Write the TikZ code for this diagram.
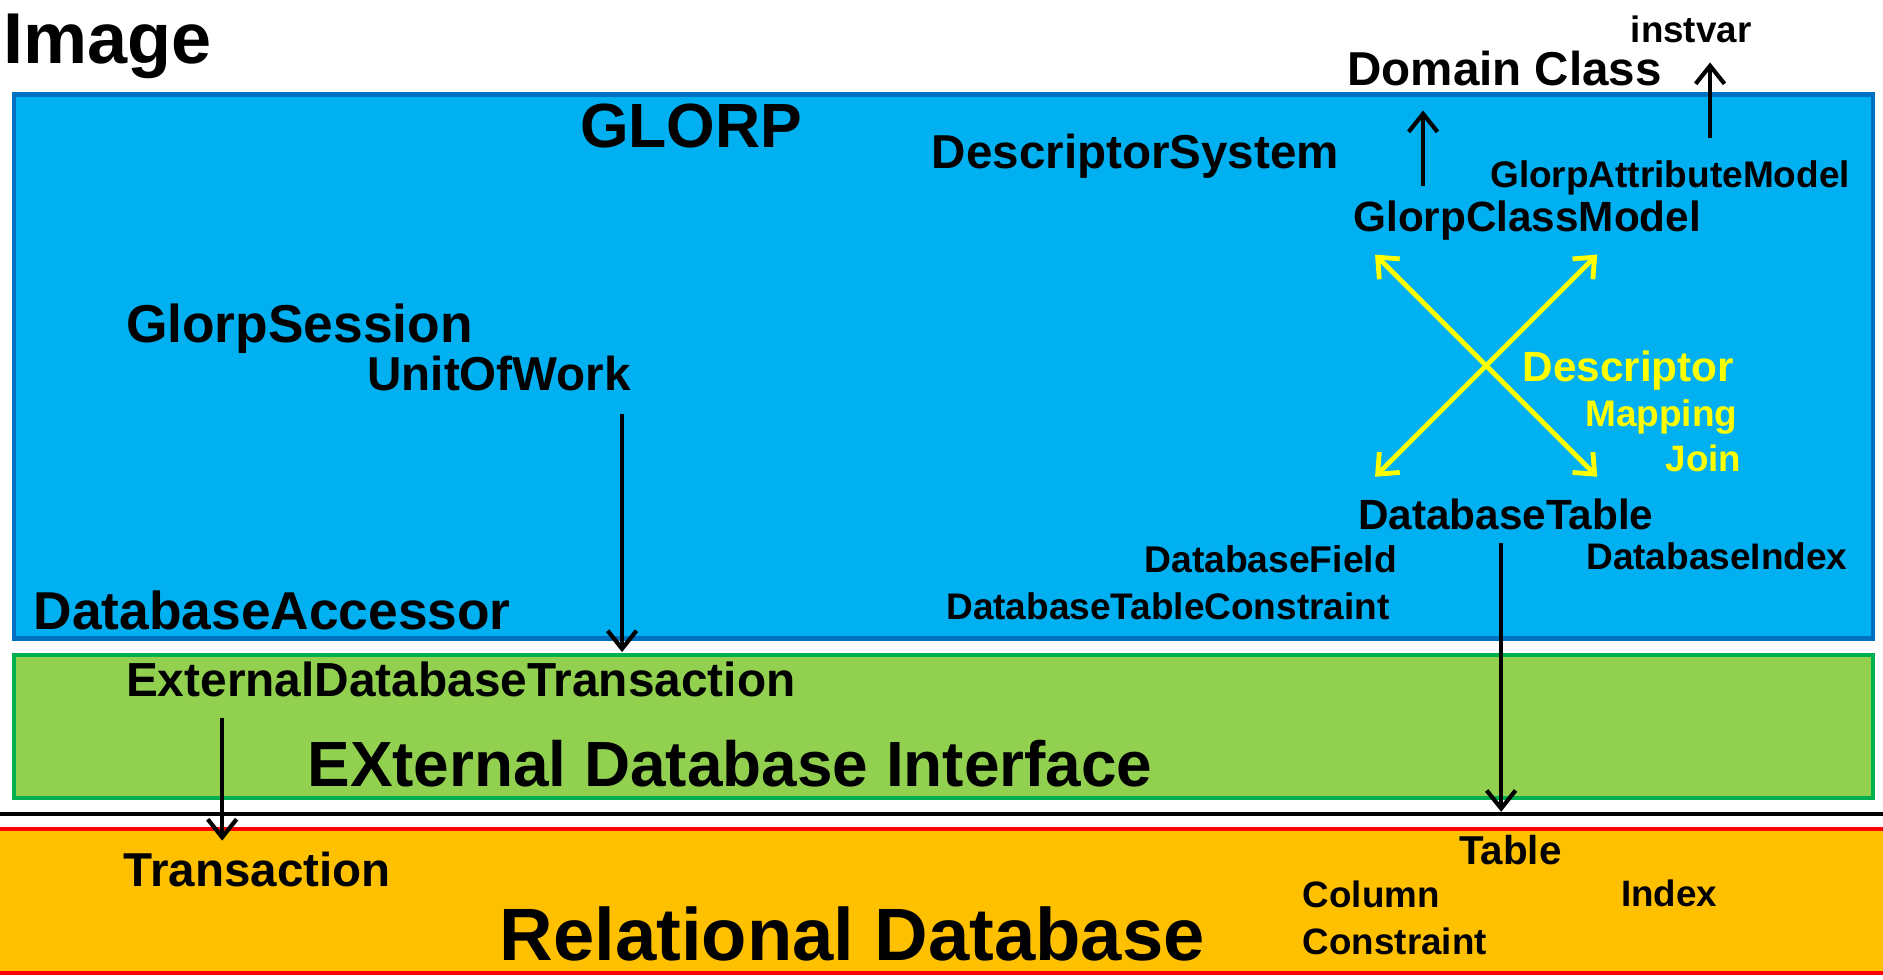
\documentclass[tikz,border=0pt]{standalone}
\usepackage{fontspec}
\setmainfont{Liberation Sans}
\usetikzlibrary{arrows.meta}
\definecolor{blueFill}{HTML}{00B0F0}
\definecolor{blueLine}{HTML}{0070C0}
\definecolor{greenFill}{HTML}{92D050}
\definecolor{greenLine}{HTML}{00B050}
\definecolor{orangeFill}{HTML}{FFC000}
\definecolor{redLine}{HTML}{FF0000}
\definecolor{ylw}{HTML}{FFFF00}
\newcommand\fsz[1]{\fontsize{#1}{#1}\selectfont\bfseries}
\begin{document}
\begin{tikzpicture}[x=1pt,y=-1pt,
  lbl/.style={anchor=base west, inner sep=0pt, outer sep=0pt},
  arr/.style={line width=3.5pt, -{Straight Barb[length=15pt,width=24pt,line width=3.5pt]}},
  yarr/.style={draw=ylw, line width=4pt, {Straight Barb[length=14pt,width=24pt,line width=4pt]}-{Straight Barb[length=14pt,width=24pt,line width=4pt]}}]
\useasboundingbox[fill=white] (0,0) rectangle (1568,816);
% layers
\filldraw[fill=orangeFill, draw=none] (0,690) rectangle (1568,810);
\draw[redLine, line width=3.5pt] (0,690) -- (1568,690);
\draw[redLine, line width=3.5pt] (0,810) -- (1568,810);
\draw[black, line width=3pt] (0,678) -- (1568,678);
\node[draw=blueLine, fill=blueFill, line width=3.5pt, minimum width=1548pt, minimum height=453pt, anchor=north west, inner sep=0pt] (glorp) at (10,77) {};
\node[draw=greenLine, fill=greenFill, line width=3.5pt, minimum width=1548pt, minimum height=119pt, anchor=north west, inner sep=0pt] (edi) at (10,544) {};
% texts
\node[lbl, font=\fsz{60}] (image) at (3,53) {Image};
\node[lbl, font=\fsz{52}] (glorpt) at (483,123) {GLORP};
\node[lbl, font=\fsz{39.6}] (dsys) at (776,140) {DescriptorSystem};
\node[lbl, font=\fsz{39.6}] (dom) at (1122,71) {Domain Class};
\node[lbl, font=\fsz{30.6}] (inst) at (1358,35) {instvar};
\node[lbl, font=\fsz{30.8}] (gam) at (1241,156) {GlorpAttributeModel};
\node[lbl, font=\fsz{35.2}] (gcm) at (1127,193) {GlorpClassModel};
\node[lbl, font=\fsz{35.2}, text=ylw] (desc) at (1268,318) {Descriptor};
\node[lbl, font=\fsz{30.8}, text=ylw] (map) at (1320,355) {Mapping};
\node[lbl, font=\fsz{30.6}, text=ylw] (join) at (1387,393) {Join};
\node[lbl, font=\fsz{35.2}] (dbt) at (1131,441) {DatabaseTable};
\node[lbl, font=\fsz{31}] (dbf) at (953,477) {DatabaseField};
\node[lbl, font=\fsz{30.8}] (dbi) at (1321,474) {DatabaseIndex};
\node[lbl, font=\fsz{30.8}] (dbtc) at (788,516) {DatabaseTableConstraint};
\node[lbl, font=\fsz{44.4}] (gs) at (105,285) {GlorpSession};
\node[lbl, font=\fsz{39.6}] (uow) at (306,325) {UnitOfWork};
\node[lbl, font=\fsz{44.4}] (dba) at (28,524) {DatabaseAccessor};
\node[lbl, font=\fsz{39.8}] (edt) at (105,580) {ExternalDatabaseTransaction};
\node[lbl, font=\fsz{53.2}] (edit) at (256,655) {EXternal Database Interface};
\node[lbl, font=\fsz{39.6}] (tr) at (103,738) {Transaction};
\node[lbl, font=\fsz{61.8}] (rdb) at (416,800) {Relational Database};
\node[lbl, font=\fsz{33.6}] (tab) at (1215,720) {Table};
\node[lbl, font=\fsz{30.6}] (col) at (1085,756) {Column};
\node[lbl, font=\fsz{30.6}] (idx) at (1350,755) {Index};
\node[lbl, font=\fsz{30.6}] (con) at (1085,795) {Constraint};
% arrow end points
\coordinate (a1s) at (1185,155); \coordinate (a1e) at (1185,92);
\coordinate (a2s) at (1424,115); \coordinate (a2e) at (1424,52);
\coordinate (a3s) at (1250,452); \coordinate (a3e) at (1250,676);
\coordinate (a4s) at (518,345);  \coordinate (a4e) at (518,543);
\coordinate (a5s) at (185,598);  \coordinate (a5e) at (185,700);
\coordinate (x1) at (1145,212); \coordinate (x2) at (1330,397);
\coordinate (x3) at (1330,212); \coordinate (x4) at (1145,397);
\draw[arr] (a1s) -- (a1e);
\draw[arr] (a2s) -- (a2e);
\draw[arr] (a3s) -- (a3e);
\draw[arr] (a4s) -- (a4e);
\draw[arr] (a5s) -- (a5e);
\draw[yarr] (x1) -- (x2);
\draw[yarr] (x3) -- (x4);
\end{tikzpicture}
\end{document}
